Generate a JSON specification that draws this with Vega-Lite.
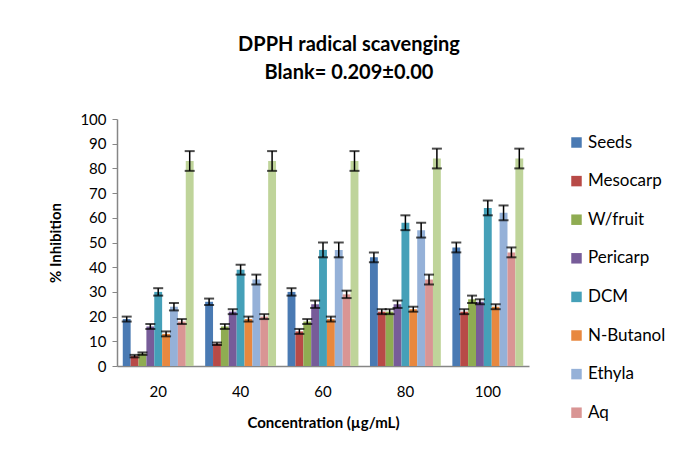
{
  "$schema": "https://vega.github.io/schema/vega-lite/v6.json",
  "width": 412,
  "height": 247,
  "autosize": {"type": "none"},
  "padding": {"left": 117, "top": 119, "right": 157, "bottom": 93},
  "background": "white",
  "config": {
    "view": {"stroke": null},
    "font": "Lato",
    "axisY": {
      "labelOverlap": false,
      "labelFont": "Lato",
      "labelFontSize": 15,
      "labelColor": "black",
      "labelPadding": 6,
      "grid": false,
      "tickColor": "#868686",
      "tickSize": 5,
      "domainColor": "#868686",
      "domainWidth": 1.5,
      "titleFont": "Lato",
      "titleFontSize": 15,
      "titleFontWeight": "bold",
      "titleColor": "black",
      "titlePadding": 16
    }
  },
  "title": {
    "text": ["DPPH radical scavenging", "Blank= 0.209±0.00"],
    "font": "Lato",
    "fontSize": 20,
    "fontWeight": "bold",
    "lineHeight": 28,
    "anchor": "middle",
    "dx": 26,
    "offset": 29,
    "color": "black"
  },
  "data": {
    "values": [
      {"conc": "20", "series": "Seeds", "value": 19, "err": 1},
      {"conc": "20", "series": "Mesocarp", "value": 4, "err": 0.5},
      {"conc": "20", "series": "W/fruit", "value": 5, "err": 0.5},
      {"conc": "20", "series": "Pericarp", "value": 16, "err": 1},
      {"conc": "20", "series": "DCM", "value": 30, "err": 1.5},
      {"conc": "20", "series": "N-Butanol", "value": 13, "err": 1},
      {"conc": "20", "series": "Ethyla", "value": 24, "err": 1.5},
      {"conc": "20", "series": "Aq", "value": 18, "err": 1},
      {"conc": "20", "series": "Standard", "value": 83, "err": 4},
      {"conc": "40", "series": "Seeds", "value": 26, "err": 1.3},
      {"conc": "40", "series": "Mesocarp", "value": 9, "err": 0.5},
      {"conc": "40", "series": "W/fruit", "value": 16, "err": 1},
      {"conc": "40", "series": "Pericarp", "value": 22, "err": 1},
      {"conc": "40", "series": "DCM", "value": 39, "err": 2},
      {"conc": "40", "series": "N-Butanol", "value": 19, "err": 1},
      {"conc": "40", "series": "Ethyla", "value": 35, "err": 2},
      {"conc": "40", "series": "Aq", "value": 20, "err": 1},
      {"conc": "40", "series": "Standard", "value": 83, "err": 4},
      {"conc": "60", "series": "Seeds", "value": 30, "err": 1.5},
      {"conc": "60", "series": "Mesocarp", "value": 14, "err": 1},
      {"conc": "60", "series": "W/fruit", "value": 18, "err": 1},
      {"conc": "60", "series": "Pericarp", "value": 25, "err": 1.5},
      {"conc": "60", "series": "DCM", "value": 47, "err": 3},
      {"conc": "60", "series": "N-Butanol", "value": 19, "err": 1},
      {"conc": "60", "series": "Ethyla", "value": 47, "err": 3},
      {"conc": "60", "series": "Aq", "value": 29, "err": 1.5},
      {"conc": "60", "series": "Standard", "value": 83, "err": 4},
      {"conc": "80", "series": "Seeds", "value": 44, "err": 2},
      {"conc": "80", "series": "Mesocarp", "value": 22, "err": 1},
      {"conc": "80", "series": "W/fruit", "value": 22, "err": 1},
      {"conc": "80", "series": "Pericarp", "value": 25, "err": 1.5},
      {"conc": "80", "series": "DCM", "value": 58, "err": 3},
      {"conc": "80", "series": "N-Butanol", "value": 23, "err": 1},
      {"conc": "80", "series": "Ethyla", "value": 55, "err": 3},
      {"conc": "80", "series": "Aq", "value": 35, "err": 2},
      {"conc": "80", "series": "Standard", "value": 84, "err": 4},
      {"conc": "100", "series": "Seeds", "value": 48, "err": 2},
      {"conc": "100", "series": "Mesocarp", "value": 22, "err": 1},
      {"conc": "100", "series": "W/fruit", "value": 27, "err": 1.5},
      {"conc": "100", "series": "Pericarp", "value": 26, "err": 1},
      {"conc": "100", "series": "DCM", "value": 64, "err": 3},
      {"conc": "100", "series": "N-Butanol", "value": 24, "err": 1},
      {"conc": "100", "series": "Ethyla", "value": 62, "err": 3},
      {"conc": "100", "series": "Aq", "value": 46, "err": 2},
      {"conc": "100", "series": "Standard", "value": 84, "err": 4}
    ]
  },
  "transform": [
    {"calculate": "datum.value - datum.err", "as": "lo"},
    {"calculate": "datum.value + datum.err", "as": "hi"}
  ],
  "encoding": {
    "x": {
      "field": "conc",
      "type": "nominal",
      "sort": ["20", "40", "60", "80", "100"],
      "scale": {"paddingInner": 0.14, "paddingOuter": 0.07},
      "axis": {
        "title": "Concentration (µg/mL)",
        "titleFont": "Lato",
        "titleFontSize": 15,
        "titleFontWeight": "bold",
        "titleColor": "black",
        "titlePadding": 16,
        "labelAngle": 0,
        "labelFont": "Lato",
        "labelFontSize": 15,
        "labelColor": "black",
        "labelPadding": 18,
        "ticks": false,
        "domainColor": "#868686",
        "domainWidth": 1.5
      }
    },
    "xOffset": {
      "field": "series",
      "type": "nominal",
      "sort": ["Seeds", "Mesocarp", "W/fruit", "Pericarp", "DCM", "N-Butanol", "Ethyla", "Aq", "Standard"],
      "scale": {"paddingInner": 0, "paddingOuter": 0}
    }
  },
  "layer": [
    {
      "mark": {"type": "bar"},
      "encoding": {
        "y": {
          "field": "value",
          "type": "quantitative",
          "scale": {"domain": [0, 100], "nice": false},
          "axis": {"title": "% Inhibition", "values": [0, 10, 20, 30, 40, 50, 60, 70, 80, 90, 100]}
        },
        "color": {
          "field": "series",
          "type": "nominal",
          "scale": {
            "domain": ["Seeds", "Mesocarp", "W/fruit", "Pericarp", "DCM", "N-Butanol", "Ethyla", "Aq", "Standard"],
            "range": ["#4a7ab3", "#b84a47", "#8fac52", "#775c99", "#45a0b8", "#e8883f", "#95b1d8", "#d99594", "#bfd49a"]
          },
          "legend": {
            "values": ["Seeds", "Mesocarp", "W/fruit", "Pericarp", "DCM", "N-Butanol", "Ethyla", "Aq"],
            "title": null,
            "orient": "none",
            "legendX": 451,
            "legendY": 15,
            "symbolType": "square",
            "symbolSize": 110,
            "symbolStrokeWidth": 0,
            "labelFont": "Lato",
            "labelFontSize": 17,
            "labelColor": "black",
            "labelOffset": 3,
            "rowPadding": 20.6
          }
        }
      }
    },
    {
      "mark": {"type": "rule", "color": "black", "strokeWidth": 1.5},
      "encoding": {
        "y": {"field": "lo", "type": "quantitative", "axis": {"title": "% Inhibition", "values": [0, 10, 20, 30, 40, 50, 60, 70, 80, 90, 100]}},
        "y2": {"field": "hi"}
      }
    },
    {
      "mark": {"type": "tick", "color": "black", "thickness": 2, "size": 10},
      "encoding": {
        "y": {"field": "lo", "type": "quantitative", "axis": {"title": "% Inhibition", "values": [0, 10, 20, 30, 40, 50, 60, 70, 80, 90, 100]}}
      }
    },
    {
      "mark": {"type": "tick", "color": "black", "thickness": 2, "size": 10},
      "encoding": {
        "y": {"field": "hi", "type": "quantitative", "axis": {"title": "% Inhibition", "values": [0, 10, 20, 30, 40, 50, 60, 70, 80, 90, 100]}}
      }
    }
  ]
}
